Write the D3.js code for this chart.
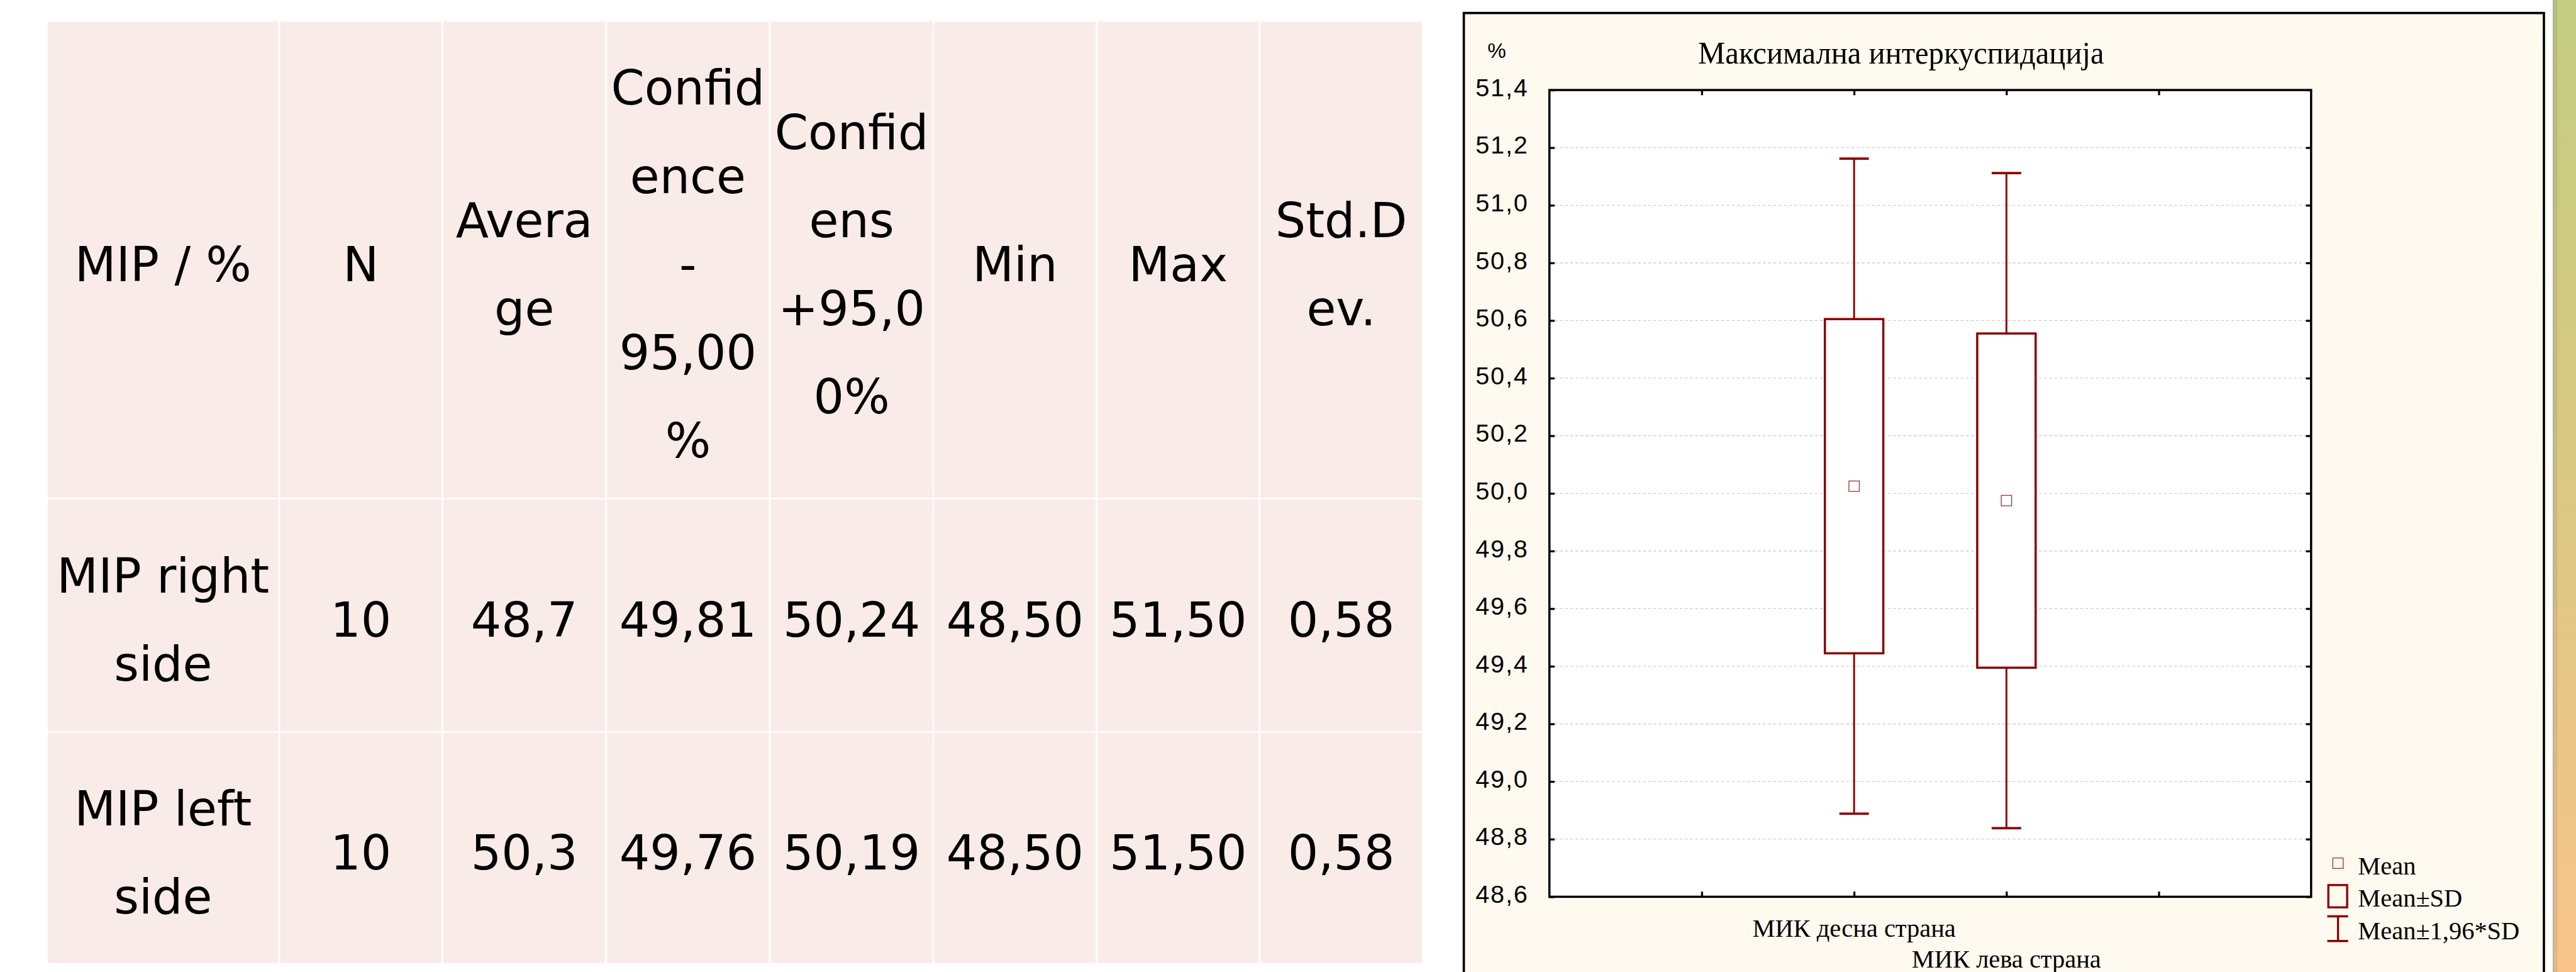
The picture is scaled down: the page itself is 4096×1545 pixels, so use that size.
<!DOCTYPE html>
<html>
<head>
<meta charset="utf-8">
<script src="https://cdn.jsdelivr.net/npm/d3@7"></script>
<style>
  html, body { margin: 0; padding: 0; background: #ffffff; }
  svg { display: block; }
</style>
</head>
<body>
<script>
// ---------------- DATA ----------------
// Table
const tableHeader = [
  ["MIP / %"],
  ["N"],
  ["Avera", "ge"],
  ["Confid", "ence", "-", "95,00", "%"],
  ["Confid", "ens", "+95,0", "0%"],
  ["Min"],
  ["Max"],
  ["Std.D", "ev."]
];
const rowLabels = [["MIP right", "side"], ["MIP left", "side"]];
const nValues = ["10", "10"];
const averages = ["48,7", "50,3"];
const ciLower = ["49,81", "49,76"];
const ciUpper = ["50,24", "50,19"];
const minValues = ["48,50", "48,50"];
const maxValues = ["51,50", "51,50"];
const stdDevs = ["0,58", "0,58"];

// Chart
const chartTitle = "Максимална интеркуспидација";
const yUnit = "%";
const categories = ["МИК десна страна", "МИК лева страна"];
const categoryPos = [2, 3];
const means = [50.025, 49.975];
const sds = [0.58, 0.58];
const yTicks = [48.6, 48.8, 49.0, 49.2, 49.4, 49.6, 49.8, 50.0, 50.2, 50.4, 50.6, 50.8, 51.0, 51.2, 51.4];
const xTicks = [1, 2, 3, 4];
const legendLabels = ["Mean", "Mean±SD", "Mean±1,96*SD"];

// ---------------- LAYOUT ----------------
const REF_W = 4454, REF_H = 1680;
const S = 4096 / REF_W;
const DARKRED = "#8b0000";

const svg = d3.select("body").append("svg")
  .attr("width", 4096).attr("height", 1545);
const defs = svg.append("defs");
const grad = defs.append("linearGradient").attr("id", "stripe")
  .attr("x1", 0).attr("y1", 0).attr("x2", 0).attr("y2", 1);
grad.append("stop").attr("offset", "0%").attr("stop-color", "#c3cd82");
grad.append("stop").attr("offset", "45%").attr("stop-color", "#d8c983");
grad.append("stop").attr("offset", "100%").attr("stop-color", "#f8c48b");

const g = svg.append("g").attr("transform", `scale(${S})`);
g.append("rect").attr("width", REF_W).attr("height", REF_H).attr("fill", "#ffffff");

// ---------------- TABLE ----------------
const colWidths = [402, 282, 283, 283, 283, 282, 282, 282];
const tableLeft = 81;
const colEdges = [tableLeft];
colWidths.forEach(w => colEdges.push(colEdges[colEdges.length - 1] + w));
const rowEdges = [36, 862, 1265, 1666];
const TFONT = "'DejaVu Sans', Verdana, sans-serif";
const TSIZE = 83, TLINE = 152.5, TBASE = 37;

const tbl = g.append("g");
const nRows = rowEdges.length - 1;
for (let r = 0; r < nRows; r++) {
  for (let c = 0; c < colWidths.length; c++) {
    tbl.append("rect")
      .attr("x", colEdges[c]).attr("y", rowEdges[r])
      .attr("width", colWidths[c]).attr("height", rowEdges[r + 1] - rowEdges[r])
      .attr("fill", "#f9ebe7")
      .attr("stroke", "#ffffff").attr("stroke-width", 3);
  }
}
const dataCols = [nValues, averages, ciLower, ciUpper, minValues, maxValues, stdDevs];
const cellLines = [tableHeader];
for (let i = 0; i < rowLabels.length; i++) {
  const row = [rowLabels[i]];
  dataCols.forEach(col => row.push([col[i]]));
  cellLines.push(row);
}
cellLines.forEach((row, r) => {
  const cy = (rowEdges[r] + rowEdges[r + 1]) / 2;
  row.forEach((lines, c) => {
    const cx = (colEdges[c] + colEdges[c + 1]) / 2;
    const n = lines.length;
    lines.forEach((t, i) => {
      tbl.append("text")
        .attr("x", cx)
        .attr("y", cy + TBASE + (i - (n - 1) / 2) * TLINE)
        .attr("text-anchor", "middle")
        .attr("font-family", TFONT)
        .attr("font-size", TSIZE)
        .attr("fill", "#000000")
        .text(t);
    });
  });
});

// ---------------- CHART PANEL ----------------
const panel = g.append("g");
panel.append("rect")
  .attr("x", 2531).attr("y", 22.5).attr("width", 1867.5).attr("height", 1720)
  .attr("fill", "#fefaef").attr("stroke", "#000000").attr("stroke-width", 4);

// right decorative stripe
g.append("rect").attr("x", 4415).attr("y", 0).attr("width", 40).attr("height", REF_H)
  .attr("fill", "url(#stripe)");
g.append("rect").attr("x", 4415).attr("y", 0).attr("width", 7).attr("height", REF_H)
  .attr("fill", "#000000").attr("opacity", 0.07);
g.append("line").attr("x1", 4414.5).attr("x2", 4414.5).attr("y1", 0).attr("y2", REF_H)
  .attr("stroke", "#a8a8a8").attr("stroke-width", 1.5);

const plot = { left: 2679, right: 3996, top: 155.6, bottom: 1550 };
const x = d3.scaleLinear().domain([0, 5]).range([plot.left, plot.right]);
const y = d3.scaleLinear().domain([48.6, 51.4]).range([plot.bottom, plot.top]);
const fmt = v => d3.format(".1f")(v).replace(".", ",");

panel.append("rect")
  .attr("x", plot.left).attr("y", plot.top)
  .attr("width", plot.right - plot.left).attr("height", plot.bottom - plot.top)
  .attr("fill", "#ffffff");

// gridlines
panel.append("g").selectAll("line")
  .data(yTicks.filter(t => t > 48.61 && t < 51.39))
  .join("line")
  .attr("x1", plot.left).attr("x2", plot.right)
  .attr("y1", d => y(d)).attr("y2", d => y(d))
  .attr("stroke", "#c4c4c4").attr("stroke-width", 1.2)
  .attr("stroke-dasharray", "5,4");

// axes via d3-axis (inward ticks, no domain path)
const TL = 9;
const axLeft = panel.append("g").attr("transform", `translate(${plot.left},0)`)
  .call(d3.axisLeft(y).tickValues(yTicks).tickSize(-TL).tickFormat(fmt).tickPadding(TL + 27));
const axRight = panel.append("g").attr("transform", `translate(${plot.right},0)`)
  .call(d3.axisRight(y).tickValues(yTicks).tickSize(-TL).tickFormat(""));
const axTop = panel.append("g").attr("transform", `translate(0,${plot.top})`)
  .call(d3.axisTop(x).tickValues(xTicks).tickSize(-TL).tickFormat(""));
const axBottom = panel.append("g").attr("transform", `translate(0,${plot.bottom})`)
  .call(d3.axisBottom(x).tickValues(xTicks).tickSize(-TL).tickFormat(""));
[axLeft, axRight, axTop, axBottom].forEach(a => {
  a.select(".domain").remove();
  a.selectAll(".tick line").attr("stroke", "#000").attr("stroke-width", 3.5);
});
axLeft.selectAll(".tick text")
  .attr("font-family", "'Liberation Sans', Arial, sans-serif")
  .attr("font-size", 43)
  .attr("letter-spacing", 2)
  .attr("fill", "#000")
  .attr("dy", null)
  .attr("dominant-baseline", "alphabetic")
  .attr("y", 10);

panel.append("rect")
  .attr("x", plot.left).attr("y", plot.top)
  .attr("width", plot.right - plot.left).attr("height", plot.bottom - plot.top)
  .attr("fill", "none").attr("stroke", "#000").attr("stroke-width", 3.8);

// unit label
panel.append("text").attr("x", 2572).attr("y", 100)
  .attr("font-family", "'Liberation Sans', Arial, sans-serif")
  .attr("font-size", 36).attr("fill", "#000").text(yUnit);

// title
panel.append("text").attr("x", 2936).attr("y", 110)
  .attr("font-family", "'Liberation Serif', 'Times New Roman', serif")
  .attr("font-size", 55).attr("fill", "#000")
  .attr("textLength", 702).attr("lengthAdjust", "spacingAndGlyphs")
  .text(chartTitle);

// category labels (staggered)
panel.append("g").selectAll("text")
  .data(categories)
  .join("text")
  .attr("x", (d, i) => x(categoryPos[i]))
  .attr("y", (d, i) => plot.bottom + 69 + i * 53)
  .attr("text-anchor", "middle")
  .attr("font-family", "'Liberation Serif', 'Times New Roman', serif")
  .attr("font-size", 44).attr("fill", "#000")
  .text(d => d);

// ---------------- MARKS ----------------
const BOX_HW = 50.5, CAP_HW = 25.5, MK = 18;
const series = categories.map((c, i) => ({ c, pos: categoryPos[i], m: means[i], sd: sds[i] }));
const marks = panel.append("g");
series.forEach(d => {
  const cx = x(d.pos);
  const hi = d.m + 1.96 * d.sd, lo = d.m - 1.96 * d.sd;
  const boxTop = y(d.m + d.sd), boxBot = y(d.m - d.sd);
  // whisker stems
  marks.append("line").attr("x1", cx).attr("x2", cx).attr("y1", y(hi)).attr("y2", boxTop)
    .attr("stroke", DARKRED).attr("stroke-width", 3.2);
  marks.append("line").attr("x1", cx).attr("x2", cx).attr("y1", boxBot).attr("y2", y(lo))
    .attr("stroke", DARKRED).attr("stroke-width", 3.2);
  // caps
  [hi, lo].forEach(v => {
    marks.append("line").attr("x1", cx - CAP_HW).attr("x2", cx + CAP_HW)
      .attr("y1", y(v)).attr("y2", y(v))
      .attr("stroke", DARKRED).attr("stroke-width", 4);
  });
  // box
  marks.append("rect").attr("x", cx - BOX_HW).attr("y", boxTop)
    .attr("width", 2 * BOX_HW).attr("height", boxBot - boxTop)
    .attr("fill", "#ffffff").attr("stroke", DARKRED).attr("stroke-width", 3.8);
  // mean marker
  marks.append("rect").attr("x", cx - MK / 2).attr("y", y(d.m) - MK / 2)
    .attr("width", MK).attr("height", MK)
    .attr("fill", "none").attr("stroke", "#a03030").attr("stroke-width", 1.4);
});

// ---------------- LEGEND ----------------
const lg = panel.append("g");
lg.append("rect").attr("x", 4033.5).attr("y", 1483).attr("width", 18).attr("height", 18)
  .attr("fill", "none").attr("stroke", "#a03030").attr("stroke-width", 1.4);
lg.append("rect").attr("x", 4025.8).attr("y", 1529.8).attr("width", 32.5).attr("height", 38.5)
  .attr("fill", "none").attr("stroke", DARKRED).attr("stroke-width", 3.6);
[1583.8, 1626.5].forEach(yy => {
  lg.append("line").attr("x1", 4024).attr("x2", 4060).attr("y1", yy).attr("y2", yy)
    .attr("stroke", DARKRED).attr("stroke-width", 4);
});
lg.append("line").attr("x1", 4042.5).attr("x2", 4042.5).attr("y1", 1583.8).attr("y2", 1626.5)
  .attr("stroke", DARKRED).attr("stroke-width", 3.6);
lg.selectAll("text.lbl").data(legendLabels).join("text")
  .attr("class", "lbl")
  .attr("x", 4077).attr("y", (d, i) => [1511, 1567, 1624][i])
  .attr("font-family", "'Liberation Serif', 'Times New Roman', serif")
  .attr("font-size", 44).attr("fill", "#000")
  .text(d => d);
</script>
</body>
</html>
